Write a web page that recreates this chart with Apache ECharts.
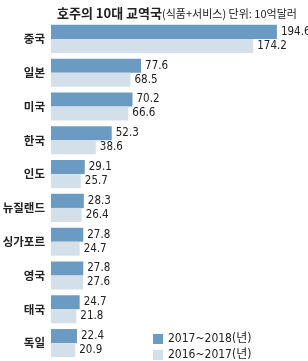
<!DOCTYPE html>
<html><head><meta charset="utf-8">
<style>html,body{margin:0;padding:0;background:#fff}#c{width:308px;height:361px}</style>
<script src="https://cdn.jsdelivr.net/npm/echarts@6/dist/echarts.min.js"></script>
</head><body><div id="c"></div>
<script>
const categories = ['중국','일본','미국','한국','인도','뉴질랜드','싱가포르','영국','태국','독일'];
const seriesNames = ['2017~2018(년)','2016~2017(년)'];
const values2018 = [194.6,77.6,70.2,52.3,29.1,28.3,27.8,27.8,24.7,22.4];
const values2017 = [174.2,68.5,66.6,38.6,25.7,26.4,24.7,27.6,21.8,20.9];

const numFont = '"DejaVu Sans Condensed","Noto Sans CJK KR",sans-serif';
const krFont = '"Noto Sans CJK KR",sans-serif';
const chart = echarts.init(document.getElementById('c'), null, {renderer:'canvas'});
const lbl = {show:true, position:'right', distance:4, color:'#222', fontSize:11.5, fontFamily:numFont, formatter: p => p.value.toFixed(1)};
const legendText = {fontFamily:numFont, fontSize:12, color:'#222'};
chart.setOption({
  animation:false,
  title:{
    text:'호주의 10대 교역국{s|(식품+서비스) 단위: 10억달러}',
    left:52, top:2,
    textStyle:{fontFamily:krFont, fontSize:13, fontWeight:'bold', color:'#222',
      rich:{s:{fontFamily:krFont, fontSize:11, fontWeight:'normal', color:'#222'}}}
  },
  legend:[
    {orient:'vertical', left:148, top:328, itemWidth:10, itemHeight:10, icon:'rect',
      textStyle:legendText, data:[seriesNames[0]]},
    {orient:'vertical', left:148, top:344, itemWidth:10, itemHeight:10, icon:'rect',
      textStyle:legendText, data:[seriesNames[1]]}
  ],
  grid:{left:51, top:22, width:232.2, height:338, outerBoundsMode:'none', containLabel:false},
  xAxis:{type:'value', min:0, max:200, show:false},
  yAxis:{type:'category', data:categories, inverse:true,
    axisLine:{show:false}, axisTick:{show:false},
    axisLabel:{margin:6, fontFamily:krFont, fontSize:11.5, fontWeight:'bold', color:'#222', padding:[0,0,4,0]}},
  series:[
    {name:seriesNames[0], type:'bar', data:values2018, barGap:'0%', barCategoryGap:'17%',
      itemStyle:{color:'#6b9bc3'}, label:lbl},
    {name:seriesNames[1], type:'bar', data:values2017, barGap:'0%', barCategoryGap:'17%',
      itemStyle:{color:'#d3e0ea'}, label:lbl}
  ]
});
</script></body></html>
